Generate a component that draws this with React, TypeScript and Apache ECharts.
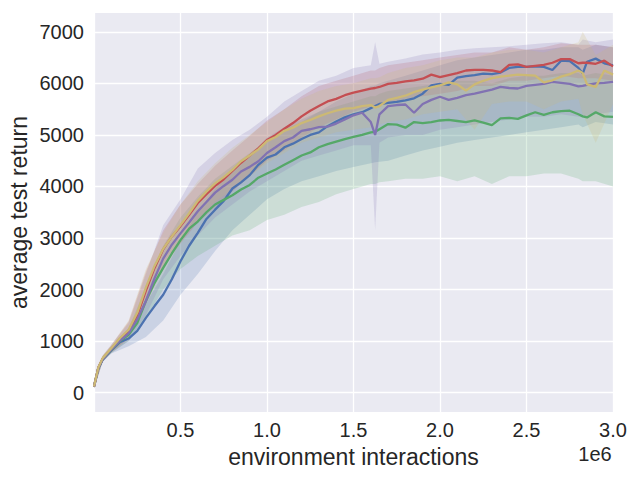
import React, { useEffect, useRef } from "react";
import * as echarts from "echarts";

// x positions (in units of 1e6 environment interactions)
const X = [
  0, 0.025, 0.05, 0.1, 0.15, 0.2, 0.25, 0.3, 0.35, 0.4, 0.45, 0.5, 0.55, 0.6, 0.65, 0.7, 0.75, 0.8, 0.85, 0.9, 0.95,
  1.0, 1.05, 1.1, 1.15, 1.2, 1.25, 1.3, 1.35, 1.4, 1.45, 1.5, 1.55, 1.6, 1.625, 1.65, 1.7, 1.75, 1.8, 1.85, 1.9, 1.95,
  2.0, 2.05, 2.1, 2.15, 2.2, 2.25, 2.3, 2.35, 2.4, 2.45, 2.5, 2.55, 2.6, 2.65, 2.7, 2.75, 2.8, 2.825, 2.85, 2.9, 2.95, 3.0,
];

const BLUE_MEAN = [
  120, 470, 640, 820, 980, 1050, 1200, 1450, 1680, 1900, 2200, 2550, 2850, 3100, 3370, 3550, 3720, 3960, 4080, 4220, 4420,
  4560, 4620, 4760, 4830, 4920, 5000, 5050, 5170, 5260, 5340, 5400, 5440, 5520, 5560, 5600, 5620, 5640, 5670, 5710, 5800, 5960,
  5990, 5970, 6110, 6140, 6160, 6190, 6180, 6210, 6300, 6320, 6320, 6330, 6320, 6260, 6440, 6430, 6300, 6190, 6420, 6480, 6390, 6350,
];
const GREEN_MEAN = [
  120, 480, 650, 830, 1000, 1120, 1350, 1780, 2130, 2420, 2700, 2960, 3180, 3320, 3500, 3650, 3740, 3830, 3940, 4030, 4170,
  4250, 4330, 4420, 4510, 4600, 4660, 4760, 4820, 4870, 4920, 4960, 5000, 5050, 5060, 5110, 5210, 5200, 5140, 5250, 5230, 5250,
  5280, 5290, 5270, 5250, 5280, 5240, 5190, 5320, 5330, 5310, 5380, 5440, 5390, 5440, 5460, 5470, 5400, 5360, 5340, 5440, 5360, 5350,
];
const RED_MEAN = [
  120, 490, 660, 850, 1040, 1200, 1500, 1980, 2420, 2780, 3030, 3230, 3450, 3680, 3850, 4010, 4140, 4300, 4460, 4600, 4740,
  4900, 5000, 5120, 5230, 5360, 5470, 5560, 5650, 5700, 5770, 5820, 5860, 5900, 5910, 5930, 5990, 6010, 6040, 6060, 6090, 6170,
  6120, 6160, 6200, 6250, 6260, 6260, 6250, 6220, 6360, 6370, 6320, 6340, 6360, 6400, 6470, 6470, 6390, 6400, 6400, 6380, 6440, 6330,
];
const PURPLE_MEAN = [
  120, 480, 650, 840, 1010, 1150, 1420, 1780, 2220, 2600, 2870, 3090, 3300, 3520, 3700, 3880, 4010, 4130, 4290, 4380, 4490,
  4650, 4760, 4880, 4950, 5080, 5110, 5150, 5160, 5220, 5300, 5380, 5430, 5250, 5000, 5400, 5560, 5580, 5590, 5430, 5600, 5680,
  5740, 5680, 5720, 5770, 5800, 5840, 5880, 5930, 5910, 5900, 5950, 5970, 5990, 6030, 6010, 5990, 5940, 5950, 5970, 6000, 6010, 6030,
];
const YELLOW_MEAN = [
  120, 490, 670, 860, 1060, 1220, 1550, 2040, 2460, 2790, 3030, 3250, 3480, 3720, 3900, 4060, 4180, 4320, 4490, 4600, 4720,
  4880, 4960, 5080, 5140, 5230, 5290, 5360, 5420, 5470, 5510, 5520, 5560, 5580, 5530, 5560, 5680, 5720, 5760, 5830, 5880, 5920,
  5960, 6020, 5980, 5860, 5980, 6050, 6100, 6130, 6150, 6170, 6160, 6150, 6020, 6060, 6130, 6180, 6250, 6200, 5980, 5930, 6250, 6170,
];

// shaded bands
const BAND_X = [
  0, 0.05, 0.1, 0.2, 0.3, 0.4, 0.5, 0.6, 0.7, 0.8, 0.9, 1.0, 1.1, 1.2, 1.3, 1.4, 1.5, 1.6, 1.625, 1.65, 1.7, 1.8, 1.9,
  2.0, 2.1, 2.2, 2.3, 2.4, 2.5, 2.6, 2.7, 2.8, 2.825, 2.9, 3.0,
];
const BLUE_LO = [80, 600, 760, 900, 1080, 1400, 1900, 2300, 2750, 3150, 3450, 3750, 3950, 4100, 4200, 4300, 4380, 4450, 4470, 4480, 4500, 4600, 4700, 4770, 4850, 4900, 4950, 5000, 5050, 5100, 5150, 5200, 5150, 5250, 5200];
const BLUE_HI = [160, 690, 880, 1180, 1720, 2300, 2950, 3500, 3950, 4350, 4600, 4950, 5150, 5300, 5450, 5650, 5800, 5950, 5960, 6000, 6050, 6150, 6250, 6350, 6450, 6500, 6550, 6600, 6650, 6650, 6700, 6700, 6650, 6750, 6700];
const GREEN_LO = [80, 600, 770, 1000, 1450, 2000, 2400, 2650, 2850, 3050, 3150, 3350, 3450, 3600, 3700, 3850, 3950, 4050, 4050, 4080, 4100, 4150, 4150, 4200, 4100, 4200, 4050, 4200, 4200, 4250, 4250, 4150, 4100, 4100, 4000];
const GREEN_HI = [160, 700, 890, 1250, 2050, 2850, 3400, 3800, 4150, 4400, 4650, 4900, 5100, 5250, 5450, 5550, 5650, 5750, 5750, 5800, 5850, 5900, 5950, 6000, 6050, 6050, 6000, 6100, 6150, 6150, 6200, 6200, 6150, 6200, 6150];
const RED_LO = [80, 610, 780, 1050, 1700, 2450, 2900, 3300, 3600, 3900, 4200, 4500, 4700, 4950, 5150, 5300, 5450, 5550, 5550, 5580, 5600, 5700, 5750, 5800, 5850, 5950, 5950, 6050, 6050, 6100, 6150, 6100, 6100, 6100, 6050];
const RED_HI = [160, 710, 920, 1380, 2350, 3150, 3650, 4050, 4400, 4700, 4980, 5280, 5500, 5750, 5950, 6050, 6150, 6250, 6250, 6300, 6350, 6400, 6450, 6500, 6550, 6600, 6600, 6700, 6650, 6700, 6780, 6750, 6750, 6750, 6700];
const PURPLE_LO = [80, 600, 770, 1000, 1500, 2200, 2650, 3050, 3400, 3650, 3900, 4100, 4300, 4500, 4600, 4700, 4800, 4800, 3150, 4850, 4950, 5000, 5000, 5100, 5150, 5200, 5250, 5300, 5350, 5350, 5400, 5350, 5350, 5400, 5450];
const PURPLE_HI = [170, 720, 930, 1350, 2300, 3250, 3750, 4350, 4650, 4900, 5100, 5350, 5650, 5850, 6050, 6150, 6300, 6350, 6800, 6380, 6420, 6480, 6560, 6600, 6650, 6680, 6700, 6720, 6750, 6780, 6800, 6750, 6850, 6800, 6850];
const YELLOW_LO = [80, 620, 780, 1050, 1750, 2400, 2900, 3350, 3700, 3950, 4200, 4450, 4650, 4850, 4950, 5050, 5100, 5150, 5100, 5200, 5250, 5300, 5400, 5450, 5500, 5100, 5600, 5650, 5650, 5500, 5650, 5700, 5400, 4850, 5600];
const YELLOW_HI = [160, 720, 930, 1400, 2400, 3100, 3650, 4100, 4450, 4750, 5000, 5250, 5500, 5700, 5850, 5950, 6000, 6100, 6100, 6120, 6200, 6300, 6350, 6450, 6500, 6500, 6600, 6650, 6650, 6600, 6700, 6800, 7000, 6550, 6750];

const X_TICKS = [0.5, 1.0, 1.5, 2.0, 2.5, 3.0];
const Y_TICKS = [0, 1000, 2000, 3000, 4000, 5000, 6000, 7000];

const SERIES = [
  { name: "blue", color: "#4C72B0", mean: BLUE_MEAN, lo: BLUE_LO, hi: BLUE_HI },
  { name: "green", color: "#55A868", mean: GREEN_MEAN, lo: GREEN_LO, hi: GREEN_HI },
  { name: "red", color: "#C44E52", mean: RED_MEAN, lo: RED_LO, hi: RED_HI },
  { name: "purple", color: "#8172B2", mean: PURPLE_MEAN, lo: PURPLE_LO, hi: PURPLE_HI },
  { name: "yellow", color: "#CCB974", mean: YELLOW_MEAN, lo: YELLOW_LO, hi: YELLOW_HI },
];

const FONT = '"Liberation Sans", Arial, sans-serif';
const TEXT = "#262626";

function hexToRgba(hex: string, a: number) {
  const n = parseInt(hex.slice(1), 16);
  return `rgba(${(n >> 16) & 255},${(n >> 8) & 255},${n & 255},${a})`;
}

export default function App() {
  const ref = useRef<HTMLDivElement>(null);
  useEffect(() => {
    if (!ref.current) return;
    const chart = echarts.init(ref.current, undefined, { renderer: "svg" });

    const bands = SERIES.map((s) => ({
      type: "custom",
      name: s.name + "-band",
      silent: true,
      clip: true,
      z: 1,
      data: BAND_X.map((x, i) => [x, s.lo[i], s.hi[i]]),
      encode: { x: 0, y: [1, 2] },
      renderItem: (params: any, api: any) => {
        if (params.dataIndex !== 0) return null;
        const up = BAND_X.map((x, i) => api.coord([x, s.hi[i]]));
        const dn = BAND_X.map((x, i) => api.coord([x, s.lo[i]])).reverse();
        return {
          type: "polygon",
          shape: { points: up.concat(dn) },
          style: { fill: hexToRgba(s.color, 0.2), stroke: "none" },
        };
      },
    }));

    const lines = SERIES.map((s) => ({
      type: "line",
      name: s.name,
      z: 3,
      showSymbol: false,
      symbol: "none",
      silent: true,
      data: X.map((x, i) => [x, s.mean[i]]),
      lineStyle: { color: s.color, width: 2.3 },
      itemStyle: { color: s.color },
    }));

    chart.setOption({
      animation: false,
      backgroundColor: "#ffffff",
      grid: {
        left: 94,
        right: 27,
        top: 13,
        bottom: 68,
        show: true,
        backgroundColor: "#EAEAF2",
        borderWidth: 0,
      },
      xAxis: {
        type: "value",
        min: 0,
        max: 3,
        interval: 0.5,
        axisLine: { show: false },
        axisTick: { show: false },
        axisLabel: {
          color: TEXT,
          fontFamily: FONT,
          fontSize: 20,
          margin: 8,
          formatter: (v: number) => (X_TICKS.indexOf(v) >= 0 ? v.toFixed(1) : ""),
        },
        splitLine: { show: true, lineStyle: { color: "#ffffff", width: 1.3 } },
      },
      yAxis: {
        type: "value",
        min: -375,
        max: 7365,
        axisLine: { show: false },
        axisTick: { show: false, customValues: Y_TICKS },
        axisLabel: {
          color: TEXT,
          fontFamily: FONT,
          fontSize: 20,
          margin: 10,
          customValues: Y_TICKS,
          formatter: (v: number) => String(v),
        },
        splitLine: { show: true, lineStyle: { color: "#ffffff", width: 1.3 } },
      },
      graphic: [
        {
          type: "text",
          x: 353.5,
          y: 457,
          style: {
            text: "environment interactions",
            fill: TEXT,
            font: `23px ${FONT}`,
            align: "center",
            verticalAlign: "middle",
            textAlign: "center",
            textVerticalAlign: "middle",
          },
        },
        {
          type: "text",
          x: 595,
          y: 454,
          style: {
            text: "1e6",
            fill: TEXT,
            font: `20px ${FONT}`,
            align: "center",
            verticalAlign: "middle",
            textAlign: "center",
            textVerticalAlign: "middle",
          },
        },
        {
          type: "text",
          x: 19,
          y: 212.5,
          rotation: Math.PI / 2,
          style: {
            text: "average test return",
            fill: TEXT,
            font: `23px ${FONT}`,
            align: "center",
            verticalAlign: "middle",
            textAlign: "center",
            textVerticalAlign: "middle",
          },
        },
      ],
      series: [...bands, ...lines],
    });

    return () => chart.dispose();
  }, []);

  return (
    <div
      ref={ref}
      style={{ position: "fixed", left: 0, top: 0, width: 640, height: 480 }}
    />
  );
}
